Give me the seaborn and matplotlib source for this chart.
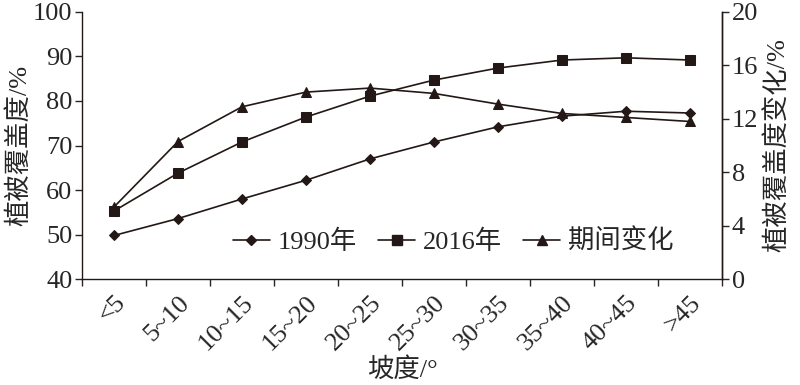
import numpy as np
import pandas as pd
import matplotlib
matplotlib.use('Agg')
import matplotlib.pyplot as plt
import seaborn as sns
from matplotlib.lines import Line2D

sns.set_style("ticks")
plt.rcParams['font.family'] = ['Liberation Serif', 'Noto Sans CJK SC']
plt.rcParams['axes.unicode_minus'] = False

# slope classes and values
slopes = ['<5', '5~10', '10~15', '15~20', '20~25', '25~30', '30~35', '35~40', '40~45', '>45']
cover_1990 = [49.8, 53.6, 58.0, 62.2, 67.0, 70.8, 74.2, 76.6, 77.7, 77.3]
cover_2016 = [55.3, 63.8, 70.8, 76.4, 81.1, 84.7, 87.4, 89.2, 89.7, 89.2]
change = [5.4, 10.3, 12.9, 14.0, 14.3, 13.9, 13.1, 12.4, 12.1, 11.8]

df = pd.DataFrame({'pos': np.arange(len(slopes)), 'slope': slopes,
                   'c1990': cover_1990, 'c2016': cover_2016, 'chg': change})

fig = plt.figure(figsize=(8, 3.85), dpi=100)
ax = fig.add_axes([0.1025, 0.275, 0.8, 0.694])
ax2 = ax.twinx()

fs = 19
ink = '#231815'
sns.lineplot(data=df, x='pos', y='c1990', ax=ax, color=ink, lw=1.2,
             marker='D', markersize=5, markeredgecolor=ink)
sns.lineplot(data=df, x='pos', y='c2016', ax=ax, color=ink, lw=1.2,
             marker='s', markersize=6.5, markeredgecolor=ink)
sns.lineplot(data=df, x='pos', y='chg', ax=ax2, color=ink, lw=1.2,
             marker='^', markersize=7, markeredgecolor=ink)

ax.set_xlim(-0.5, len(slopes) - 0.5)
ax.set_ylim(40, 100)
ax.set_yticks(np.arange(40, 101, 10))
ax2.set_ylim(0, 20)
ax2.set_yticks(np.arange(0, 21, 4))

# ticks at class boundaries, labels at class centres
ax.set_xticks(np.arange(-0.5, len(slopes), 1))
ax.set_xticklabels([])
ax.set_xticks(np.arange(len(slopes)), minor=True)
ax.set_xticklabels(slopes, minor=True, rotation=45, ha='right',
                   rotation_mode='anchor', fontsize=fs)
ax.tick_params(axis='x', which='minor', length=0, pad=9)
ax.tick_params(axis='x', which='major', length=5, width=1, direction='out')
ax.tick_params(axis='y', length=5, width=1, direction='out', labelsize=fs, pad=2)
ax2.tick_params(axis='y', length=5, width=1, direction='out', labelsize=fs, pad=2)

ax.set_xlabel('坡度/°', fontsize=fs, labelpad=2)
ax.set_ylabel('植被覆盖度/%', fontsize=fs, labelpad=1)
ax2.set_ylabel('植被覆盖度变化/%', fontsize=fs, labelpad=4)

for a in (ax, ax2):
    a.spines['top'].set_visible(False)
    for s in ('left', 'right', 'bottom'):
        a.spines[s].set_color(ink)
        a.spines[s].set_linewidth(1.0)
ax2.spines['left'].set_visible(False)
ax2.spines['bottom'].set_visible(False)

handles = [
    Line2D([], [], color=ink, lw=1.2, marker='D', markersize=5),
    Line2D([], [], color=ink, lw=1.2, marker='s', markersize=6.5),
    Line2D([], [], color=ink, lw=1.2, marker='^', markersize=7),
]
ax.legend(handles, ['1990年', '2016年', '期间变化'], loc='lower center',
          bbox_to_anchor=(0.58, 0.005), ncol=3, frameon=False, fontsize=fs,
          handlelength=1.4, handletextpad=0.3, columnspacing=0.8)

fig.savefig('out.png', dpi=100)
